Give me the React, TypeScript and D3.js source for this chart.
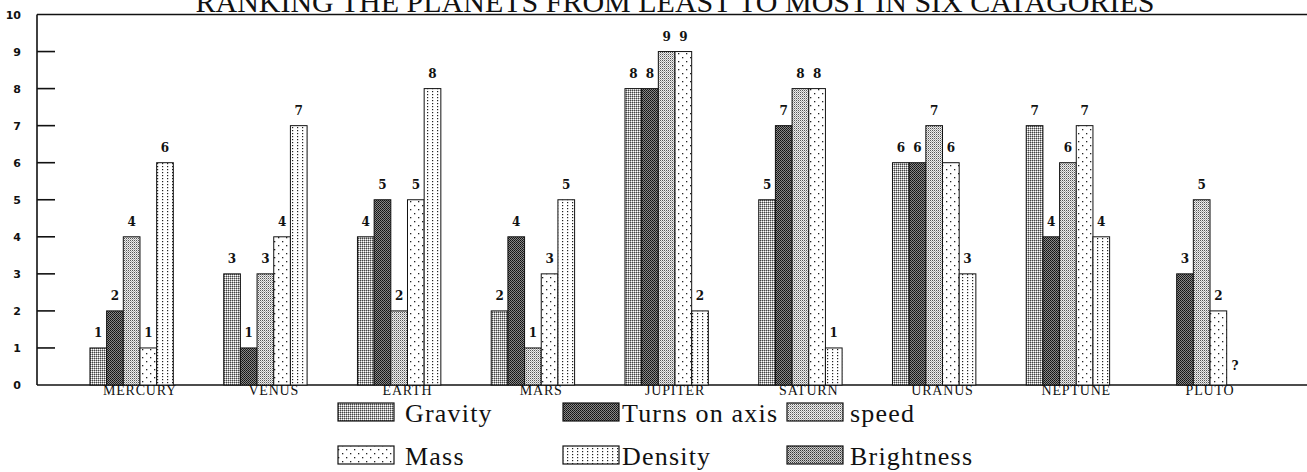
import React from "react";
import * as d3 from "d3";

const planets = ["MERCURY", "VENUS", "EARTH", "MARS", "JUPITER", "SATURN", "URANUS", "NEPTUNE", "PLUTO"];
const seriesNames = ["Gravity", "Turns on axis", "speed", "Mass", "Density", "Brightness"];
const gravity: (number | null)[] = [1, 3, 4, 2, 8, 5, 6, 7, null];
const turnsOnAxis: (number | null)[] = [2, 1, 5, 4, 8, 7, 6, 4, 3];
const speed: (number | null)[] = [4, 3, 2, 1, 9, 8, 7, 6, 5];
const mass: (number | null)[] = [1, 4, 5, 3, 9, 8, 6, 7, 2];
const density: (number | null)[] = [6, 7, 8, 5, 2, 1, 3, 4, 0];
const brightness: (number | null)[] = [null, null, null, null, null, null, null, null, null];
const yTicks = [0, 1, 2, 3, 4, 5, 6, 7, 8, 9, 10];
const title = "RANKING THE PLANETS FROM LEAST TO MOST IN SIX CATAGORIES";
const unknownLabel = "?";

const seriesValues = [gravity, turnsOnAxis, speed, mass, density, brightness];
const patternIds = ["pGravity", "pTurns", "pSpeed", "pMass", "pDensity", "pBright"];

const W = 1307;
const H = 472;
const axisX = 37;
const top = 14.5;
const bottom = 385;

export default function App() {
  const y = d3.scaleLinear().domain([0, 10]).range([bottom, top]);
  const x = d3.scaleBand<string>().domain(planets).range([73.1, 1276.9]).paddingInner(0.252).paddingOuter(0.126);
  const xs = d3.scaleBand<string>().domain(seriesNames).range([0, x.bandwidth()]).padding(0);

  const legendCols = [338, 563, 787];
  const legendTextX = [405, 622, 850];
  const legendRows = [403, 446];

  return (
    <svg width={W} height={H} style={{ position: "absolute", left: 0, top: 0, background: "#fff" }}>
      <defs>
        <pattern id="pGravity" width={2} height={2} patternUnits="userSpaceOnUse">
          <rect width={2} height={2} fill="#fff" />
          <rect x={0} y={0} width={1} height={1} fill="#444" />
          <rect x={1} y={0} width={1} height={1} fill="#aaa" />
          <rect x={0} y={1} width={1} height={1} fill="#aaa" />
        </pattern>
        <pattern id="pTurns" width={2} height={2} patternUnits="userSpaceOnUse">
          <rect width={2} height={2} fill="#888" />
          <rect x={0} y={0} width={1} height={1} fill="#111" />
          <rect x={1} y={1} width={1} height={1} fill="#222" />
        </pattern>
        <pattern id="pSpeed" width={2} height={2} patternUnits="userSpaceOnUse">
          <rect width={2} height={2} fill="#eee" />
          <rect x={0} y={0} width={1} height={1} fill="#555" />
          <rect x={1} y={1} width={1} height={1} fill="#aaa" />
        </pattern>
        <pattern id="pMass" width={8} height={8} patternUnits="userSpaceOnUse">
          <rect width={8} height={8} fill="#fff" />
          <rect x={2} y={1} width={1.3} height={1.3} fill="#222" />
          <rect x={6} y={5} width={1.3} height={1.3} fill="#222" />
        </pattern>
        <pattern id="pDensity" width={5} height={3} patternUnits="userSpaceOnUse">
          <rect width={5} height={3} fill="#fff" />
          <rect x={2} y={1} width={1.2} height={1.2} fill="#222" />
        </pattern>
        <pattern id="pBright" width={2} height={2} patternUnits="userSpaceOnUse">
          <rect width={2} height={2} fill="#ccc" />
          <rect x={0} y={0} width={1} height={1} fill="#333" />
          <rect x={1} y={1} width={1} height={1} fill="#777" />
        </pattern>
      </defs>

      <text x={675} y={12} textAnchor="middle" fontFamily="'Liberation Serif', serif" fontSize={30} fill="#111">
        {title}
      </text>

      {/* frame */}
      <line x1={axisX} x2={W} y1={top} y2={top} stroke="#111" strokeWidth={1.6} />
      <line x1={axisX} x2={W} y1={bottom} y2={bottom} stroke="#111" strokeWidth={1.6} />
      <line x1={axisX} x2={axisX} y1={top} y2={bottom} stroke="#111" strokeWidth={1.6} />

      {yTicks.map((t) => (
        <g key={t}>
          {t > 0 && t < 10 && (
            <line x1={axisX} x2={axisX + 18} y1={y(t)} y2={y(t)} stroke="#111" strokeWidth={1.6} />
          )}
          <text x={21} y={y(t) + 4} textAnchor="end" fontFamily="'DejaVu Sans', sans-serif" fontWeight="bold" fontSize={11} fill="#111">
            {t}
          </text>
        </g>
      ))}

      {planets.map((p, i) => (
        <g key={p}>
          {seriesNames.map((s, k) => {
            const v = seriesValues[k][i];
            if (v === null || v === undefined) return null;
            const bx = (x(p) as number) + (xs(s) as number);
            const bw = xs.bandwidth();
            return (
              <g key={s}>
                {v > 0 && (
                  <rect x={bx} y={y(v)} width={bw} height={bottom - y(v)} fill={`url(#${patternIds[k]})`} stroke="#111" strokeWidth={1} />
                )}
                <text x={bx + bw / 2} y={y(v) - (v > 0 ? 11 : 15)} textAnchor="middle" fontFamily="'DejaVu Serif', serif" fontWeight="bold" fontSize={12} fill="#111">
                  {v > 0 ? String(v) : unknownLabel}
                </text>
              </g>
            );
          })}
          <text x={(x(p) as number) + x.bandwidth() / 2} y={395} textAnchor="middle" fontFamily="'Liberation Serif', serif" fontSize={14} letterSpacing={0.8} fill="#111">
            {p}
          </text>
        </g>
      ))}

      {seriesNames.map((s, k) => {
        const col = k % 3;
        const row = Math.floor(k / 3);
        const lx = legendCols[col];
        const ly = legendRows[row];
        return (
          <g key={s}>
            <rect x={lx} y={ly} width={56} height={18} fill={`url(#${patternIds[k]})`} stroke="#111" strokeWidth={1.2} />
            <text x={legendTextX[col]} y={ly + 19} fontFamily="'Liberation Serif', serif" fontSize={26} letterSpacing={1.2} fill="#111">
              {s}
            </text>
          </g>
        );
      })}
    </svg>
  );
}
